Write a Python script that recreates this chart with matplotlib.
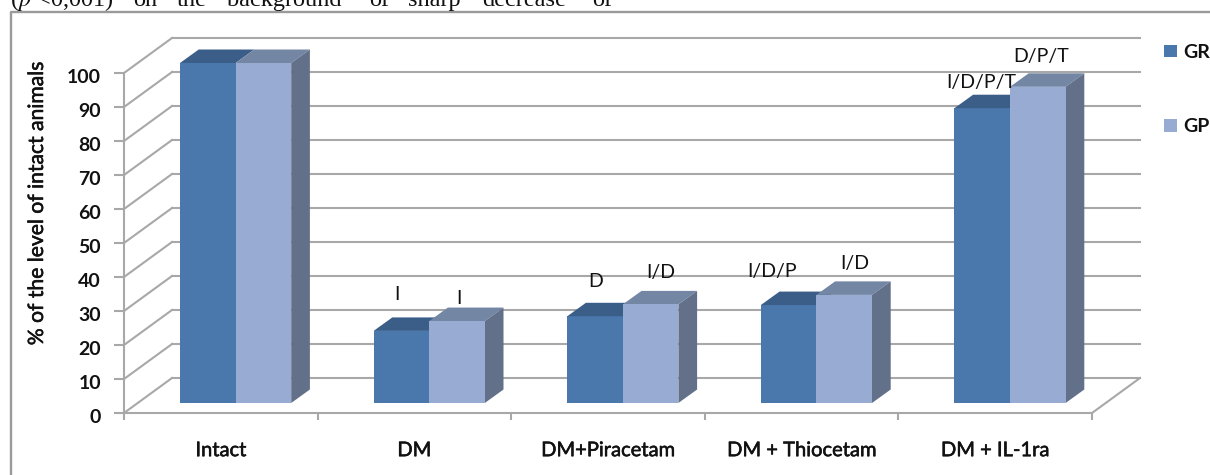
import matplotlib
matplotlib.use("Agg")
import matplotlib.pyplot as plt
import matplotlib.patheffects as pe
from matplotlib.patches import Polygon, Patch
from matplotlib.lines import Line2D
from matplotlib.transforms import ScaledTranslation

categories = ["Intact", "DM", "DM+Piracetam", "DM + Thiocetam", "DM + IL-1ra"]
gr_values = [100, 21.2, 25.5, 28.8, 86.7]
gp_values = [100, 24.1, 29.0, 31.8, 93.0]
gr_notes = ["", "I", "D", "I/D/P", "I/D/P/T"]
gp_notes = ["", "I", "I/D", "I/D", "D/P/T"]
y_ticks = list(range(0, 101, 10))
series_names = ["GR", "GP"]
ylabel_text = "% of the level of intact animals"
caption_lead = r"($\mathit{p}$ <0,001)"
caption_words = ["on", "the", "background", "of", "sharp", "decrease", "of"]

# label offsets from the top centre of the bar, in pixels (x right, y up)
gr_note_offset = [(0, 0), (-4, 36), (1, 35), (-17, 34), (-1, 26)]
gp_note_offset = [(0, 0), (2, 23), (10, 32), (11, 31), (3, 30)]
caption_left = [133, 177, 227, 369, 408, 482, 592]

W, H = 1210, 475
FONT = "Lato"
TEXT = "#111111"
GRID = "#a8a8a8"
C_GR, C_GR_TOP = "#4a78ad", "#3b5e88"
C_GP, C_GP_TOP = "#98abd3", "#7386a4"
C_SIDE = "#627089"
SOFT = [pe.withStroke(linewidth=0.4, foreground=TEXT)]

fig = plt.figure(figsize=(W / 100, H / 100), dpi=100, facecolor="white")


def px_x(x):
    return x / W


def px_y(y):
    return 1 - y / H


fig.add_artist(Line2D([px_x(10.5), px_x(10.5), px_x(1210)], [px_y(475), px_y(11.5), px_y(11.5)],
                      color="#9a9a9a", lw=1.7, transform=fig.transFigure))

ax = fig.add_axes([px_x(124), px_y(413), px_x(968), 340 / H])
ax.set_xlim(0, 5)
ax.set_ylim(0, 100)
ax.patch.set_alpha(0)
for s in ("top", "right"):
    ax.spines[s].set_visible(False)
for s in ("left", "bottom"):
    ax.spines[s].set_color(GRID)
    ax.spines[s].set_linewidth(1.5)

FLOOR_DX, FLOOR_DY = 48 / 193.6, 35 / 3.4
BAR_DX, BAR_DY = 18.7 / 193.6, 13.5 / 3.4
BAR_BASE = 10 / 3.4
BAR_W = 55.6 / 193.6
BAR_START = 56 / 193.6

for v in y_ticks:
    ax.plot([0, FLOOR_DX], [v, v + FLOOR_DY], color=GRID, lw=1.5, clip_on=False, zorder=1)
    ax.plot([FLOOR_DX, 5 + FLOOR_DX], [v + FLOOR_DY] * 2, color=GRID, lw=1.5, clip_on=False, zorder=1)
ax.plot([5, 5 + FLOOR_DX], [0, FLOOR_DY], color=GRID, lw=1.5, clip_on=False, zorder=1)


def note(text, x, y, offset):
    ax.annotate(text, (x, y), xytext=(offset[0] * 0.72, offset[1] * 0.72), textcoords="offset points",
                ha="center", va="center", fontsize=14, family=FONT, color=TEXT, zorder=6,
                annotation_clip=False)


for i, (a, b) in enumerate(zip(gr_values, gp_values)):
    x0 = i + BAR_START
    x1 = x0 + BAR_W
    x2 = x1 + BAR_W
    ax.bar(x0, a, BAR_W, bottom=BAR_BASE, align="edge", color=C_GR, zorder=3, clip_on=False)
    ax.add_patch(Polygon([(x0, BAR_BASE + a), (x1, BAR_BASE + a),
                          (x1 + BAR_DX, BAR_BASE + a + BAR_DY), (x0 + BAR_DX, BAR_BASE + a + BAR_DY)],
                         closed=True, fc=C_GR_TOP, ec="none", zorder=3, clip_on=False))
    ax.add_patch(Polygon([(x1, BAR_BASE + b), (x2, BAR_BASE + b),
                          (x2 + BAR_DX, BAR_BASE + b + BAR_DY), (x1 + BAR_DX, BAR_BASE + b + BAR_DY)],
                         closed=True, fc=C_GP_TOP, ec="none", zorder=4, clip_on=False))
    ax.add_patch(Polygon([(x2, BAR_BASE), (x2 + BAR_DX, BAR_BASE + BAR_DY),
                          (x2 + BAR_DX, BAR_BASE + b + BAR_DY), (x2, BAR_BASE + b)],
                         closed=True, fc=C_SIDE, ec="none", zorder=4, clip_on=False))
    ax.bar(x1, b, BAR_W, bottom=BAR_BASE, align="edge", color=C_GP, zorder=5, clip_on=False)
    if gr_notes[i]:
        note(gr_notes[i], x0 + BAR_W / 2, BAR_BASE + a, gr_note_offset[i])
    if gp_notes[i]:
        note(gp_notes[i], x1 + BAR_W / 2, BAR_BASE + b, gp_note_offset[i])

ax.set_yticks(y_ticks)
ax.set_yticklabels([str(v) for v in y_ticks], fontsize=14, fontweight="bold", family=FONT, color=TEXT)
ax.tick_params(axis="y", length=7, width=1.5, color=GRID, pad=9.5)
shift = ScaledTranslation(0, -3 / 100, fig.dpi_scale_trans)
for lab in ax.get_yticklabels():
    lab.set_transform(lab.get_transform() + shift)

ax.set_xticks(range(6))
ax.set_xticklabels([""] * 6)
ax.tick_params(axis="x", which="major", length=5, width=1.5, color=GRID)
ax.set_xticks([i + 0.5 for i in range(5)], minor=True)
ax.set_xticklabels(categories, minor=True, fontsize=14.5, family=FONT, color=TEXT, path_effects=SOFT)
ax.tick_params(axis="x", which="minor", length=0, pad=21)

fig.text(px_x(37), px_y(203), ylabel_text, rotation=90, ha="center", va="center",
         fontsize=15.2, family=FONT, color=TEXT, path_effects=SOFT)

handles = [Patch(fc=C_GR, ec="none"), Patch(fc=C_GP, ec="none")]
fig.legend(handles, series_names, loc="upper left", bbox_to_anchor=(px_x(1164), px_y(44)),
           borderaxespad=0, borderpad=0, frameon=False, handlelength=0.68, handleheight=0.62,
           handletextpad=0.3, labelspacing=2.95,
           prop={"family": FONT, "weight": "bold", "size": 14}, labelcolor=TEXT)

fig.text(px_x(10), px_y(6), caption_lead, fontsize=17.5, family="Liberation Serif",
         math_fontfamily="stix", ha="left", va="baseline", color=TEXT)
for word, left in zip(caption_words, caption_left):
    fig.text(px_x(left), px_y(6), word, fontsize=17.5, family="Liberation Serif",
             ha="left", va="baseline", color=TEXT)

fig.savefig("out.png", dpi=100)
